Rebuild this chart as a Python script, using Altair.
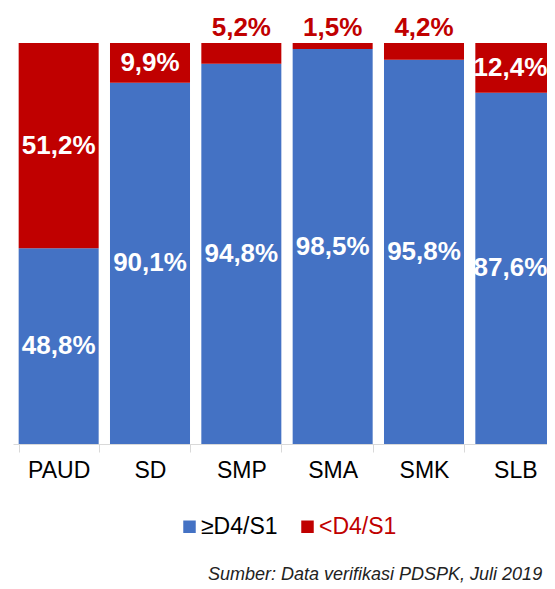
import altair as alt
import pandas as pd

categories = ["PAUD", "SD", "SMP", "SMA", "SMK", "SLB"]
ge_values = [48.8, 90.1, 94.8, 98.5, 95.8, 87.6]
lt_values = [51.2, 9.9, 5.2, 1.5, 4.2, 12.4]
series_names = ["≥D4/S1", "<D4/S1"]
series_colors = ["#4472C4", "#C00000"]
source_text = "Sumber: Data verifikasi PDSPK, Juli 2019"

FONT = "Liberation Sans"


def fmt(v):
    return f"{v:.1f}".replace(".", ",") + "%"


rows = []
for c, g, l in zip(categories, ge_values, lt_values):
    rows.append({"cat": c, "series": series_names[0], "val": g, "ord": 0})
    rows.append({"cat": c, "series": series_names[1], "val": l, "ord": 1})
bars_df = pd.DataFrame(rows)

inside, above = [], []
for c, g, l in zip(categories, ge_values, lt_values):
    inside.append({"cat": c, "pos": g / 2, "lab": fmt(g)})
    if l >= 8:
        inside.append({"cat": c, "pos": g + l / 2, "lab": fmt(l)})
    else:
        above.append({"cat": c, "pos": g + l, "lab": fmt(l)})
inside_df = pd.DataFrame(inside)
above_df = pd.DataFrame(above)

last_cat = categories[-1]

xscale = alt.Scale(domain=categories, paddingInner=0.124, paddingOuter=0.062)
yscale = alt.Scale(domain=[0, 100], nice=False)

x_enc = alt.X(
    "cat:N",
    scale=xscale,
    sort=categories,
    axis=alt.Axis(
        title=None,
        labelAngle=0,
        labelFont=FONT,
        labelFontSize=23,
        labelColor="#000000",
        labelPadding=7,
        domainColor="#d9d9d9",
        tickColor="#d9d9d9",
        tickSize=8,
        tickBand="extent",
        grid=False,
    ),
)

bars = alt.Chart(bars_df).mark_bar().encode(
    x=x_enc,
    y=alt.Y("val:Q", stack="zero", scale=yscale, axis=None),
    color=alt.Color(
        "series:N",
        scale=alt.Scale(domain=series_names, range=series_colors),
        legend=alt.Legend(
            title=None,
            orient="none",
            direction="horizontal",
            legendX=165,
            legendY=472,
            padding=0,
            symbolType="square",
            symbolSize=156,
            symbolStrokeWidth=0,
            labelFont=FONT,
            labelFontSize=23,
            labelOffset=0,
            columnPadding=18,
            labelColor=alt.expr("datum.label === '<D4/S1' ? '#C00000' : '#000000'"),
        ),
    ),
    order=alt.Order("ord:Q", sort="ascending"),
)

text_inside = alt.Chart(inside_df).transform_filter(
    alt.datum.cat != last_cat
).mark_text(
    font=FONT, fontSize=26, fontWeight="bold", color="white", baseline="middle"
).encode(
    x=alt.X("cat:N", scale=xscale, sort=categories),
    y=alt.Y("pos:Q", scale=yscale),
    text="lab:N",
)

text_inside_last = alt.Chart(inside_df).transform_filter(
    alt.datum.cat == last_cat
).mark_text(
    font=FONT, fontSize=26, fontWeight="bold", color="white", baseline="middle",
    align="right", dx=-8,
).encode(
    x=alt.X("cat:N", scale=xscale, sort=categories, bandPosition=1),
    y=alt.Y("pos:Q", scale=yscale),
    text="lab:N",
)

text_above = alt.Chart(above_df).mark_text(
    font=FONT, fontSize=26, fontWeight="bold", color="#C00000", baseline="alphabetic", dy=-7
).encode(
    x=alt.X("cat:N", scale=xscale, sort=categories),
    y=alt.Y("pos:Q", scale=yscale),
    text="lab:N",
)

src = alt.Chart(pd.DataFrame({"t": [source_text]})).mark_text(
    font=FONT, fontSize=18, fontStyle="italic", color="#222222", align="left", baseline="alphabetic"
).encode(
    x=alt.value(195),
    y=alt.value(537),
    text="t:N",
)

chart = (
    alt.layer(bars, text_inside, text_inside_last, text_above, src)
    .properties(
        width=548,
        height=401,
        autosize=alt.AutoSizeParams(type="none"),
        padding={"left": 5, "top": 35, "right": -14, "bottom": 140},
    )
    .configure_view(stroke=None)
)

chart.save("out.html", embed_options={"renderer": "svg", "actions": False})
